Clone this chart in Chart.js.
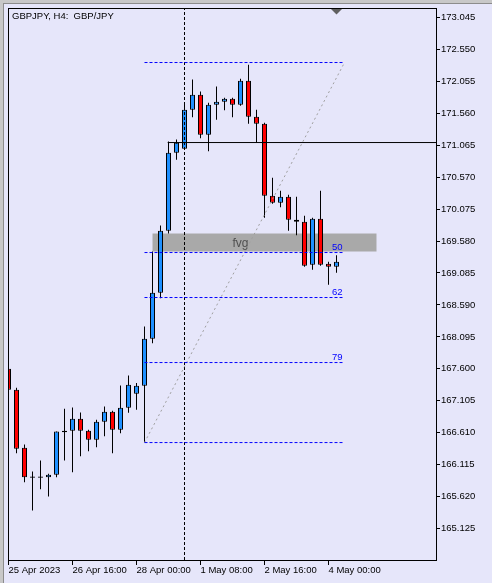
<!DOCTYPE html>
<html>
<head>
<meta charset="utf-8">
<script src="https://cdn.jsdelivr.net/npm/chart.js@4.4.0/dist/chart.umd.min.js"></script>
<style>
  html, body { margin: 0; padding: 0; background: #e6e6fa; }
</style>
</head>
<body>
<canvas id="chart" width="492" height="583"></canvas>
<script>
// GBPJPY H4, bar 0 = 25 Apr 2023 08:00
const opens = [
  167.600, 167.274, 166.375, 165.930, 165.910, 165.920, 165.957, 166.617, 166.639, 166.825,
  166.639, 166.499, 166.778, 166.933, 166.654, 166.995, 167.212, 167.336, 168.065, 168.778,
  169.739, 170.948, 171.010, 171.614, 171.847, 171.227, 171.692, 171.738, 171.785, 171.692,
  172.064, 171.506, 171.397, 170.281, 170.173, 170.266, 169.909, 169.878, 169.212, 169.925,
  169.227, 169.181
];
const highs = [
  167.635, 167.305, 166.426, 166.008, 166.178, 165.972, 166.630, 166.980, 167.000, 166.922,
  166.654, 166.809, 167.015, 166.949, 167.341, 167.496, 167.380, 168.255, 169.418, 169.821,
  171.123, 171.154, 171.707, 172.084, 171.898, 171.723, 171.975, 171.800, 171.800, 172.095,
  172.312, 171.614, 171.413, 170.560, 170.359, 170.297, 170.266, 169.971, 169.940, 170.359,
  169.258, 169.361
];
const lows = [
  167.248, 166.292, 165.842, 165.403, 165.734, 165.620, 165.920, 166.178, 165.997, 166.245,
  166.323, 166.385, 166.555, 166.292, 166.602, 166.918, 166.964, 166.462, 167.997, 168.694,
  169.697, 170.839, 170.995, 171.500, 171.174, 170.973, 171.459, 171.608, 171.500, 171.676,
  171.397, 171.103, 169.940, 170.160, 170.105, 169.739, 169.671, 169.181, 169.134, 169.196,
  168.902, 169.088
];
const closes = [
  167.274, 166.360, 165.920, 165.910, 165.930, 165.957, 166.628, 166.639, 166.825, 166.639,
  166.499, 166.778, 166.933, 166.654, 166.995, 167.352, 167.336, 168.065, 168.778, 169.739,
  170.948, 171.103, 171.614, 171.847, 171.227, 171.692, 171.738, 171.785, 171.692, 172.064,
  171.506, 171.397, 170.281, 170.173, 170.266, 169.909, 169.878, 169.196, 169.925, 169.212,
  169.181, 169.258
];

const timeTickIndex = [0, 8, 16, 24, 32, 40];
const timeTickLabels = ['25 Apr 2023', '26 Apr 16:00', '28 Apr 00:00', '1 May 08:00', '2 May 16:00', '4 May 00:00'];
const priceTicks = [165.125, 165.620, 166.115, 166.610, 167.105, 167.600, 168.095, 168.590, 169.085,
  169.580, 170.075, 170.570, 171.065, 171.560, 172.055, 172.550, 173.045];

// fibo retracement, 0 on top, 100 at bottom
const fibStart = 17, fibEnd = 42;
const fibLevels = [172.347, 169.402, 168.705, 167.697, 166.457];
const fibLabels = ['', '50', '62', '79', ''];

// fvg box + label
const fvgStart = 18, fvgEnd = 46;
const fvgTop = 169.697, fvgBottom = 169.418;
const fvgTextAt = 29, fvgTextPrice = 169.545;

// other objects
const hLinePrice = 171.107, hLineStart = 19.9;
const vLineAt = 22;

const xMin = -0.0625, xMax = 53.4375;
const yMin = 164.637, yMax = 173.192;

const FONT = "'Liberation Sans', Arial, sans-serif";
const BLUE = 'rgb(30,144,255)';
const RED = 'rgb(255,0,0)';

function seg(x1, y1, x2, y2) {
  return [{x: x1, y: y1}, {x: x2, y: y2}];
}

const lineDefaults = { type: 'line', pointRadius: 0, borderWidth: 1, tension: 0, fill: false, order: 0 };

const datasets = [
  {
    label: 'body',
    data: opens.map((o, i) => ({x: i, y: [o, closes[i]]})),
    backgroundColor: closes.map((c, i) => c >= opens[i] ? BLUE : RED),
    borderColor: '#000',
    borderWidth: 1,
    borderSkipped: false,
    inflateAmount: 0,
    barThickness: 5,
    grouped: false,
    order: 1
  },
  {
    label: 'wick',
    data: lows.map((l, i) => ({x: i, y: [l, highs[i]]})),
    backgroundColor: '#000',
    borderWidth: 0,
    inflateAmount: 0,
    barThickness: 1,
    grouped: false,
    order: 2
  }
];

fibLevels.forEach(lv => {
  datasets.push(Object.assign({}, lineDefaults, {
    data: seg(fibStart, lv, fibEnd, lv), borderColor: '#0000ff', borderDash: [3, 2]
  }));
});
datasets.push(Object.assign({}, lineDefaults, {
  data: seg(fibStart, fibLevels[4], fibEnd, fibLevels[0]), borderColor: '#a0a0a0', borderDash: [2, 3]
}));
datasets.push(Object.assign({}, lineDefaults, {
  data: seg(hLineStart, hLinePrice, xMax, hLinePrice), borderColor: '#000'
}));
datasets.push(Object.assign({}, lineDefaults, {
  data: seg(vLineAt, yMin, vLineAt, yMax), borderColor: '#000', borderDash: [3, 2]
}));

const extras = {
  id: 'extras',
  beforeDraw(chart) {
    const ctx = chart.ctx;
    ctx.save();
    ctx.fillStyle = '#e6e6fa';
    ctx.fillRect(0, 0, chart.width, chart.height);
    ctx.fillStyle = '#c8c8c8';
    ctx.fillRect(0, 0, chart.width, 3);
    ctx.fillRect(0, 0, 3, chart.height);
    ctx.fillStyle = '#8c8c8c';
    ctx.fillRect(3, 3, chart.width - 3, 1);
    ctx.fillRect(3, 3, 1, chart.height - 3);
    ctx.restore();
  },
  beforeDatasetsDraw(chart) {
    const {ctx, chartArea: a, scales: {x, y}} = chart;
    ctx.save();
    ctx.beginPath();
    ctx.rect(a.left, a.top, a.right - a.left, a.bottom - a.top);
    ctx.clip();
    const l = x.getPixelForValue(fvgStart), r = x.getPixelForValue(fvgEnd);
    const t = y.getPixelForValue(fvgTop), b = y.getPixelForValue(fvgBottom);
    ctx.fillStyle = '#a9a9a9';
    ctx.fillRect(l, t, r - l, b - t);
    ctx.fillStyle = '#505050';
    ctx.font = '12px ' + FONT;
    ctx.textAlign = 'center';
    ctx.textBaseline = 'middle';
    ctx.fillText('fvg', x.getPixelForValue(fvgTextAt), y.getPixelForValue(fvgTextPrice));
    ctx.restore();
  },
  afterDatasetsDraw(chart) {
    const {ctx, chartArea: a, scales: {x, y}} = chart;
    ctx.save();
    // fibo level captions
    ctx.fillStyle = '#0000ff';
    ctx.font = '9.5px ' + FONT;
    ctx.textAlign = 'right';
    ctx.textBaseline = 'alphabetic';
    fibLevels.forEach((lv, i) => {
      if (fibLabels[i]) ctx.fillText(fibLabels[i], x.getPixelForValue(fibEnd) - 2, y.getPixelForValue(lv) - 3);
    });
    // frame
    ctx.strokeStyle = '#000';
    ctx.lineWidth = 1;
    ctx.strokeRect(a.left + 0.5, a.top + 0.5, a.right - a.left, a.bottom - a.top);
    // shift marker
    const sx = x.getPixelForValue(opens.length - 1);
    ctx.fillStyle = '#606060';
    ctx.beginPath();
    ctx.moveTo(sx - 5.5, a.top + 1);
    ctx.lineTo(sx + 5.5, a.top + 1);
    ctx.lineTo(sx, a.top + 6.5);
    ctx.closePath();
    ctx.fill();
    // title
    ctx.fillStyle = '#000';
    ctx.font = '9.5px ' + FONT;
    ctx.textAlign = 'left';
    ctx.textBaseline = 'middle';
    ctx.fillText('GBPJPY, H4:  GBP/JPY', 12, 16);
    ctx.restore();
  }
};

new Chart(document.getElementById('chart'), {
  type: 'bar',
  data: { datasets: datasets },
  options: {
    responsive: false,
    animation: false,
    layout: { padding: { left: 8, top: 8, right: 0, bottom: 0 } },
    plugins: { legend: { display: false }, tooltip: { enabled: false }, title: { display: false } },
    scales: {
      x: {
        type: 'linear',
        min: xMin,
        max: xMax,
        offset: false,
        afterFit: s => { s.height = 23; },
        afterBuildTicks: s => { s.ticks = timeTickIndex.map(v => ({value: v})); },
        grid: { display: true, drawOnChartArea: false, drawTicks: true, tickLength: 5, color: '#000', offset: false },
        border: { display: false },
        ticks: {
          autoSkip: false, maxRotation: 0, minRotation: 0, align: 'start', padding: 0,
          color: '#000', font: { family: FONT, size: 9.5 },
          callback: (v, i) => timeTickLabels[i]
        }
      },
      y: {
        type: 'linear',
        position: 'right',
        min: yMin,
        max: yMax,
        afterFit: s => { s.width = 56; },
        afterBuildTicks: s => { s.ticks = priceTicks.map(v => ({value: v})); },
        grid: { display: true, drawOnChartArea: false, drawTicks: true, tickLength: 4, color: '#000' },
        border: { display: false },
        ticks: {
          autoSkip: false, padding: 1, color: '#000', font: { family: FONT, size: 9.5 },
          callback: v => v.toFixed(3)
        }
      }
    }
  },
  plugins: [extras]
});
</script>
</body>
</html>
